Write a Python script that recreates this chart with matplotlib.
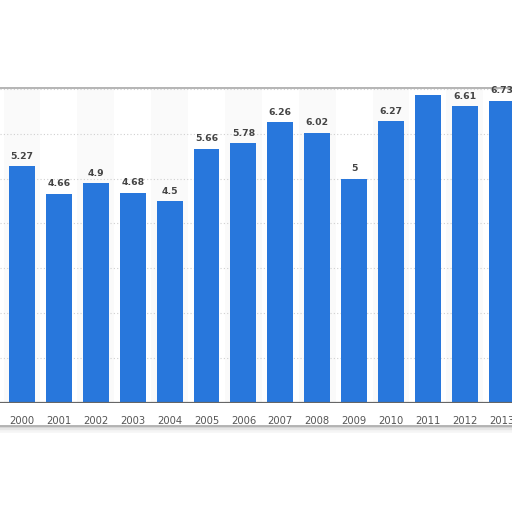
import numpy as np
import matplotlib
matplotlib.use('Agg')
import matplotlib.pyplot as plt
from matplotlib.patches import FancyBboxPatch

years = ['2000', '2001', '2002', '2003', '2004', '2005', '2006',
         '2007', '2008', '2009', '2010', '2011', '2012', '2013']
values = [5.27, 4.66, 4.9, 4.68, 4.5, 5.66, 5.78,
          6.26, 6.02, 5.0, 6.27, 6.87, 6.61, 6.73]
labels = ['5.27', '4.66', '4.9', '4.68', '4.5', '5.66', '5.78',
          '6.26', '6.02', '5', '6.27', '6.87', '6.61', '6.73']

bar_color = '#2877dc'

fig = plt.figure(figsize=(5.12, 5.12), dpi=100)
fig.patch.set_facecolor('white')

# card frame with a soft shadow
for off, a in [(4, 0.08), (2.5, 0.12), (1.2, 0.2)]:
    sh = FancyBboxPatch((-10 / 512, (512 - 426 - off) / 512), 540 / 512, (426 - 88) / 512,
                        boxstyle='round,pad=0,rounding_size=0.01',
                        transform=fig.transFigure, facecolor='none',
                        edgecolor='#888888', lw=off, alpha=a, zorder=0)
    fig.patches.append(sh)
card = FancyBboxPatch((-10 / 512, (512 - 426) / 512), 540 / 512, (426 - 88) / 512,
                      boxstyle='round,pad=0,rounding_size=0.01',
                      transform=fig.transFigure, facecolor='white',
                      edgecolor='#a8a8a8', lw=1.2, zorder=0)
fig.patches.append(card)

ax = fig.add_axes([0, (512 - 403) / 512, 1, (403 - 89) / 512])
ax.set_zorder(5)
ax.set_facecolor('none')

x = np.arange(len(years))
pitch = 36.9
ax.set_xlim(-22 / pitch, (512 - 22) / pitch)
ymax = (403 - 89) / 44.9
ax.set_ylim(0, ymax)

# alternating column bands, very faint
for i in x:
    if i % 2 == 0:
        ax.axvspan(i - 0.5, i + 0.5, color='#fafafa', zorder=0, lw=0)

for g in range(1, 8):
    ax.axhline(g, color='#d0d0d0', lw=0.8, ls=(0, (1, 2)), zorder=1)

ax.bar(x, values, width=0.70, color=bar_color, zorder=2)
ax.axhline(0, color='#666666', lw=1.6, zorder=3)

# labels that would sit mostly above the card top are hidden (cut off in the screenshot)
for xi, v, lab in zip(x, values, labels):
    if v + 0.2 >= ymax:
        continue
    ax.text(xi, v + 0.12, lab, ha='center', va='bottom', fontsize=6.7,
            fontweight='bold', color='#444444', clip_on=False, zorder=4)

for s in ax.spines.values():
    s.set_visible(False)
ax.set_yticks([])
ax.set_xticks(x)
ax.set_xticklabels(years, fontsize=7.2, color='#555555')
ax.tick_params(axis='x', length=0, pad=9)

fig.savefig('out.png', dpi=100)
